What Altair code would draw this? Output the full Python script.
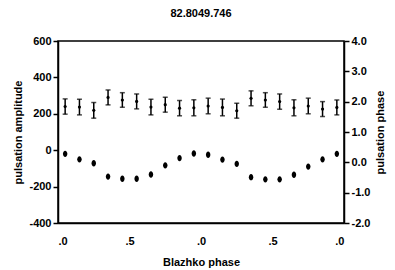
import altair as alt
import pandas as pd

title_text = "82.8049.746"
blazhko_phase = [0.05, 0.15, 0.25, 0.35, 0.45, 0.55, 0.65, 0.75, 0.85, 0.95,
                 1.05, 1.15, 1.25, 1.35, 1.45, 1.55, 1.65, 1.75, 1.85, 1.95]
amplitude = [240, 237, 219, 290, 276, 268, 237, 250, 231, 233,
             243, 235, 217, 285, 276, 267, 233, 243, 226, 235]
amplitude_err = [42, 43, 43, 41, 40, 41, 43, 41, 42, 44,
                 43, 46, 41, 41, 40, 42, 44, 43, 41, 41]
pulsation_phase = [0.28, 0.10, -0.03, -0.47, -0.54, -0.54, -0.40, -0.10, 0.14, 0.29,
                   0.25, 0.09, -0.05, -0.49, -0.56, -0.56, -0.41, -0.14, 0.10, 0.28]
x_ticks = [0, 0.5, 1, 1.5, 2]
left_ticks = [-400, -200, 0, 200, 400, 600]
right_ticks = [-2, -1, 0, 1, 2, 3, 4]

df = pd.DataFrame({"bp": blazhko_phase, "amp": amplitude, "err": amplitude_err,
                   "ph": pulsation_phase})
df["lo"] = df["amp"] - df["err"]
df["hi"] = df["amp"] + df["err"]

FONT = "Liberation Sans"
base = alt.Chart(df)

x_enc = alt.X("bp:Q", scale=alt.Scale(domain=[0, 2], nice=False),
              axis=alt.Axis(values=x_ticks, title="Blazhko phase",
                            labelExpr="datum.value % 1 == 0 ? '.0' : '.5'",
                            grid=False, ticks=False, labelPadding=12,
                            titlePadding=10))
yscale = alt.Scale(domain=[-400, 600], nice=False, zero=False)

y_axis_left = alt.Axis(values=left_ticks, title="pulsation amplitude", orient="left",
                       grid=False, tickSize=5, labelPadding=2, titlePadding=5,
                       labelExpr="replace(datum.label, '\u2212', '-')")

rule = base.mark_rule(color="black", strokeWidth=1.5).encode(
    x=x_enc,
    y=alt.Y("lo:Q", scale=yscale, axis=y_axis_left),
    y2="hi:Q",
)
cap_lo = base.mark_tick(orient="horizontal", color="black", size=5, thickness=1.5).encode(
    x=alt.X("bp:Q"), y=alt.Y("lo:Q", scale=yscale, axis=y_axis_left))
cap_hi = base.mark_tick(orient="horizontal", color="black", size=5, thickness=1.5).encode(
    x=alt.X("bp:Q"), y=alt.Y("hi:Q", scale=yscale, axis=y_axis_left))
center = base.mark_circle(color="black", size=10, opacity=1).encode(
    x=alt.X("bp:Q"), y=alt.Y("amp:Q", scale=yscale, axis=y_axis_left))

left = alt.layer(rule, cap_lo, cap_hi, center)

ellipse = "M -0.7 0 A 0.7 1 0 1 0 0.7 0 A 0.7 1 0 1 0 -0.7 0 Z"
right = base.mark_point(shape=ellipse, filled=True, color="black", size=40, opacity=1).encode(
    x=alt.X("bp:Q"),
    y=alt.Y("ph:Q", scale=alt.Scale(domain=[-2, 4], nice=False, zero=False),
            axis=alt.Axis(values=right_ticks, title="pulsation phase", orient="right",
                          grid=False, tickSize=5, labelPadding=2, titlePadding=16,
                          titleAngle=270, format=".1f",
                          labelExpr="replace(datum.label, '\u2212', '-')")),
)

chart = alt.layer(left, right).resolve_scale(y="independent").properties(
    width=286, height=182,
    title=alt.Title(title_text, fontSize=11, fontWeight="bold", font=FONT,
                    anchor="middle", offset=16, color="black"),
    autosize=alt.AutoSizeParams(type="none"),
    padding={"left": 50, "top": 33, "right": 43, "bottom": 46},
).configure_view(stroke="black", strokeWidth=1.5).configure_axis(
    labelFont=FONT, titleFont=FONT, labelFontSize=11, titleFontSize=11,
    labelFontWeight="bold", titleFontWeight="bold", labelColor="black",
    titleColor="black", domainColor="black", tickColor="black",
    domainWidth=1.5, tickWidth=1.5,
)

chart.save("out.html", embed_options={"renderer": "svg", "actions": False})
